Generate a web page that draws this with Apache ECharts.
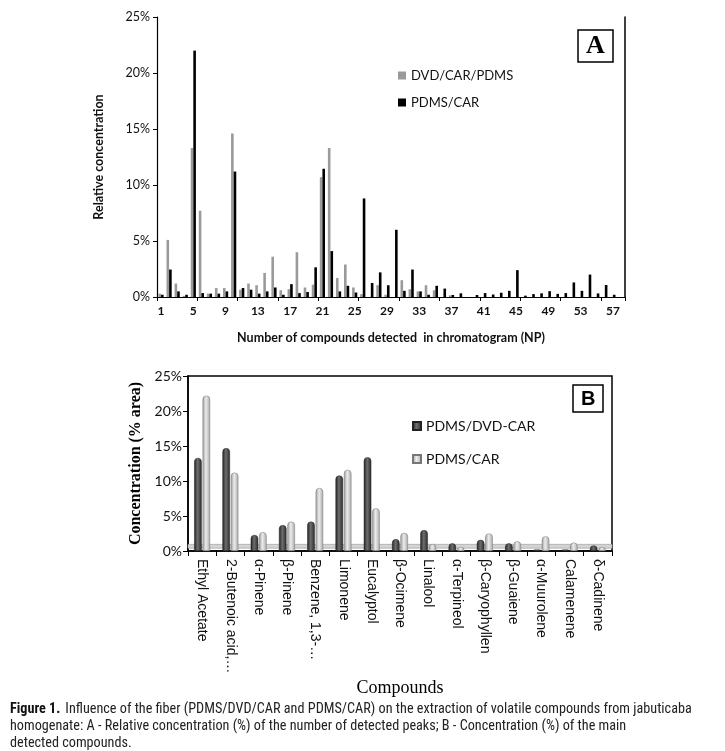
<!DOCTYPE html>
<html>
<head>
<meta charset="utf-8">
<script src="https://cdn.jsdelivr.net/npm/echarts@6/dist/echarts.min.js"></script>
<style>
html,body{margin:0;padding:0;background:#fff;}
#c{width:725px;height:751px;}
</style>
</head>
<body>
<div id="c"></div>
<script>
// ---------- Chart A data ----------
var npCategories = [];
for (var i = 1; i <= 58; i++) npCategories.push(String(i));
var dvdCarPdms = [0.3,5.1,1.2,0.1,13.3,7.7,0.3,0.8,0.8,14.6,
  0.65,1.2,1.05,2.15,3.6,0.6,0.7,4.0,0.85,1.1,
  10.7,13.3,1.7,2.9,0.85,0.25,0,1.05,0.2,0,
  1.5,0.7,0.5,1.05,0.6,0,0.15,0,0,0,
  0,0,0,0,0,0,0,0,0,0,
  0,0,0,0,0,0,0,0];
var pdmsCarA = [0.2,2.45,0.5,0.2,22.0,0.35,0.3,0.3,0.5,11.2,
  0.8,0.65,0.3,0.5,0.85,0.2,1.15,0.35,0.45,2.65,
  11.45,4.1,0.5,1.0,0.4,8.8,1.25,2.2,1.05,6.0,
  0.55,2.45,0.5,0.2,1.0,0.75,0.18,0.33,0,0.18,
  0.35,0.22,0.38,0.55,2.4,0.12,0.26,0.33,0.52,0.28,
  0.35,1.3,0.55,2.0,0.32,1.07,0.2,0];

// ---------- Chart B data ----------
var compounds = ['Ethyl Acetate','2-Butenoic acid,…','α-Pinene','β-Pinene','Benzene, 1,3-…',
  'Limonene','Eucalyptol','β-Ocimene','Linalool','α-Terpineol',
  'β-Caryophyllen','β-Guaiene','α-Muurolene','Calamenene','δ-Cadinene'];
var pdmsDvdCar = [13.3,14.7,2.3,3.7,4.2,10.8,13.4,1.7,3.0,1.1,1.6,1.1,0.2,0.2,0.8];
var pdmsCarB = [22.2,11.2,2.7,4.2,9.0,11.6,6.1,2.6,1.0,0.6,2.5,1.4,2.1,1.2,0.6];

var chart = echarts.init(document.getElementById('c'), null, {renderer:'canvas'});

function grad(c1, c2, c3){
  return new echarts.graphic.LinearGradient(0,0,1,0,[
    {offset:0,color:c1},{offset:0.45,color:c2},{offset:1,color:c3}]);
}
var darkGrad = grad('#1e1e1e','#6e6e6e','#2a2a2a');
var lightGrad = grad('#9a9a9a','#ececec','#a8a8a8');

var sansA = 'Lato, "Open Sans", sans-serif';
var narrow = '"Liberation Sans Narrow", "Roboto Condensed", Roboto, sans-serif';

var option = {
  animation:false,
  backgroundColor:'#fff',
  title:[
    {text:'A', left:578, top:30, padding:[3,8,3,8], borderColor:'#000', borderWidth:1.5,
     textStyle:{fontFamily:'"Liberation Serif", serif', fontWeight:'bold', fontSize:26, color:'#000', lineHeight:26}},
    {text:'B', left:573, top:385, padding:[4,8,3,8], borderColor:'#000', borderWidth:1.5,
     textStyle:{fontFamily:'"Liberation Sans", Arial, sans-serif', fontWeight:'bold', fontSize:20, color:'#000', lineHeight:20}},
    {left:5, top:695,
     text:'{b|Figure 1.} {n|Influence of the fiber (PDMS/DVD/CAR and PDMS/CAR) on the extraction of volatile compounds from jabuticaba}\n{n|homogenate: A - Relative concentration (%) of the number of detected peaks; B - Concentration (%) of the main}\n{n|detected compounds.}',
     textStyle:{fontWeight:'normal', rich:{
       b:{fontFamily:narrow, fontWeight:'bold', fontSize:14.2, color:'#111', lineHeight:17},
       n:{fontFamily:narrow, fontWeight:'normal', fontSize:14.2, color:'#222', lineHeight:17}
     }}}
  ],
  legend:[
    {data:['DVD/CAR/PDMS','PDMS/CAR '], orient:'vertical', left:393, top:64, itemWidth:8, itemHeight:8, itemGap:14,
     icon:'rect', textStyle:{fontFamily:sansA, fontSize:13, color:'#111'}},
    {data:['PDMS/DVD-CAR','PDMS/CAR'], orient:'vertical', left:407, top:414, itemWidth:8, itemHeight:8, itemGap:19,
     icon:'rect', textStyle:{fontFamily:sansA, fontSize:14, color:'#111'}}
  ],
  grid:[
    {left:157, top:17, width:468, height:280, show:false},
    {left:188, top:376, width:424, height:175, show:true, borderColor:'#000', borderWidth:1.5}
  ],
  xAxis:[
    {gridIndex:0, type:'category', data:npCategories,
     name:'Number of compounds detected  in chromatogram (NP)', nameLocation:'middle', nameGap:34,
     nameTextStyle:{fontFamily:sansA, fontWeight:'bold', fontSize:12.5, color:'#111'},
     axisLine:{lineStyle:{color:'#000', width:1.2}},
     axisTick:{show:true, interval:4, length:4, lineStyle:{color:'#000'}},
     axisLabel:{interval:3, margin:8, fontFamily:sansA, fontWeight:'bold', fontSize:12, color:'#111'}},
    {gridIndex:1, type:'category', data:compounds,
     name:'Compounds', nameLocation:'middle', nameGap:128,
     nameTextStyle:{fontFamily:'"Liberation Serif", serif', fontSize:18, color:'#000'},
     axisLine:{lineStyle:{color:'#000', width:1.5}},
     axisTick:{show:true, length:5, lineStyle:{color:'#000'}},
     axisLabel:{interval:0, rotate:-90, margin:8, fontFamily:'"Liberation Sans", Arial, sans-serif', fontSize:14, color:'#111'}}
  ],
  yAxis:[
    {gridIndex:0, type:'value', min:0, max:25, interval:5,
     name:'Relative concentration', nameLocation:'middle', nameGap:52,
     nameTextStyle:{fontFamily:sansA, fontWeight:'bold', fontSize:12.5, color:'#111'},
     axisLine:{show:true, lineStyle:{color:'#000', width:1.2}},
     axisTick:{show:true, length:4, lineStyle:{color:'#000'}},
     splitLine:{show:false},
     axisLabel:{margin:7, fontFamily:sansA, fontSize:12.5, color:'#111', formatter:'{value}%'}},
    {gridIndex:0, type:'value', min:0, max:25, interval:5, position:'right',
     axisLine:{show:true, lineStyle:{color:'#000', width:1.5}},
     axisTick:{show:false}, axisLabel:{show:false}, splitLine:{show:false}},
    {gridIndex:1, type:'value', min:0, max:25, interval:5,
     name:'Concentration (% area)', nameLocation:'middle', nameGap:37,
     nameTextStyle:{fontFamily:'"Liberation Serif", serif', fontWeight:'bold', fontSize:16, color:'#000'},
     axisLine:{show:true, lineStyle:{color:'#000', width:1.5}},
     axisTick:{show:true, length:5, lineStyle:{color:'#000'}},
     splitLine:{show:false},
     axisLabel:{margin:6, fontFamily:sansA, fontSize:14, color:'#111', formatter:'{value}%'}}
  ],
  series:[
    {name:'DVD/CAR/PDMS', type:'bar', xAxisIndex:0, yAxisIndex:0, data:dvdCarPdms,
     barWidth:2.6, barGap:'0%', itemStyle:{color:'#9a9a9a'}},
    {name:'PDMS/CAR ', type:'bar', xAxisIndex:0, yAxisIndex:0, data:pdmsCarA,
     barWidth:2.6, barGap:'0%', itemStyle:{color:'#000'}},
    {name:'PDMS/DVD-CAR', type:'bar', xAxisIndex:1, yAxisIndex:2, data:pdmsDvdCar,
     barWidth:7.5, barGap:'12%', itemStyle:{color:darkGrad, borderRadius:[4,4,0,0], borderColor:'#222', borderWidth:0.5},
     markArea:{silent:true, itemStyle:{color:'#d4d4d4', borderColor:'#999', borderWidth:0.6},
       data:[[{yAxis:0.4},{yAxis:0.95}]]}},
    {name:'PDMS/CAR', type:'bar', xAxisIndex:1, yAxisIndex:2, data:pdmsCarB,
     barWidth:7.5, barGap:'12%', itemStyle:{color:lightGrad, borderRadius:[4,4,0,0], borderColor:'#777', borderWidth:0.5}}
  ]
};
chart.setOption(option);
</script>
</body>
</html>
